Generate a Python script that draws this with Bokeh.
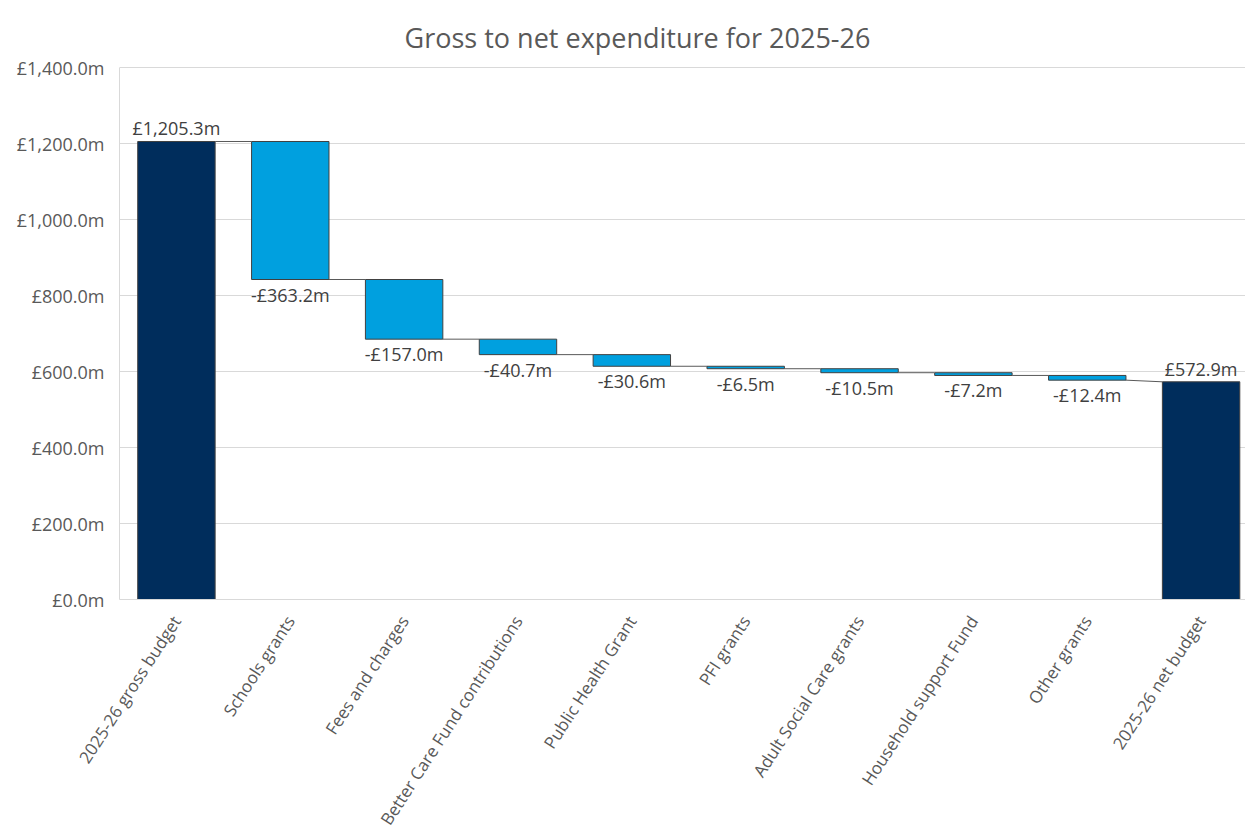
import math
from bokeh.plotting import figure
from bokeh.models import Range1d, FixedTicker, CustomJSTickFormatter, ColumnDataSource, Label
from bokeh.embed import file_html
from bokeh.resources import INLINE

categories = ["2025-26 gross budget", "Schools grants", "Fees and charges",
              "Better Care Fund contributions", "Public Health Grant", "PFI grants",
              "Adult Social Care grants", "Household support Fund", "Other grants",
              "2025-26 net budget"]
values = [1205.3, -363.2, -157.0, -40.7, -30.6, -6.5, -10.5, -7.2, -12.4, 572.9]
is_total = [True, False, False, False, False, False, False, False, False, True]
y_ticks = [0, 200, 400, 600, 800, 1000, 1200, 1400]
y_max = 1400
title_text = "Gross to net expenditure for 2025-26"

FONT = "Open Sans"
TXT = "#595959"
NAVY = "#002D5C"
BLUE = "#00A0DF"

xs, bottoms, tops, colors, labels, label_y, label_base = [], [], [], [], [], [], []
run = 0.0
starts, ends = [], []
for i, (v, tot) in enumerate(zip(values, is_total)):
    if tot:
        b, t = 0.0, v
        start, end = v, v
        run = v
        colors.append(NAVY)
        labels.append("£{:,.1f}m".format(v))
        label_y.append(t)
        label_base.append("bottom")
    else:
        start = run
        run = run + v
        end = run
        b, t = min(start, end), max(start, end)
        colors.append(BLUE)
        labels.append("-£{:,.1f}m".format(abs(v)))
        label_y.append(b)
        label_base.append("top")
    xs.append(i)
    bottoms.append(b)
    tops.append(t)
    starts.append(start)
    ends.append(end)

# layout (pixels): frame from canvas top to y=599, the 1400 line at y=67
FRAME_BOTTOM, GRID_TOP, TITLE_BASE = 599, 67, 37
px_per_unit = (FRAME_BOTTOM - GRID_TOP) / y_max
y_top = FRAME_BOTTOM / px_per_unit

bw = 0.68
x_lo, x_hi = -0.5, len(categories) - 0.61
p = figure(width=1245, height=838, output_backend="svg", toolbar_location=None,
           x_range=Range1d(x_lo, x_hi), y_range=Range1d(0, y_top),
           min_border_left=119, min_border_right=0, min_border_top=0, min_border_bottom=239)
p.outline_line_color = None

# title
title_x = x_lo + (637 - 119) / (1245 - 119) * (x_hi - x_lo)
title_y = (FRAME_BOTTOM - TITLE_BASE) / px_per_unit
p.add_layout(Label(x=title_x, y=title_y, text=title_text, text_align="center",
                   text_baseline="alphabetic", text_font=FONT, text_font_size="27px",
                   text_color=TXT))

src = ColumnDataSource(dict(x=xs, bottom=bottoms, top=tops, color=colors))
p.vbar(x="x", bottom="bottom", top="top", width=bw, fill_color="color",
       line_color="#404040", line_width=1, source=src)

# connectors
cx0 = [xs[i] + bw / 2 for i in range(len(xs) - 1)]
cx1 = [xs[i + 1] - bw / 2 for i in range(len(xs) - 1)]
cy0 = [ends[i] for i in range(len(xs) - 1)]
cy1 = [starts[i + 1] for i in range(len(xs) - 1)]
p.segment(x0=cx0, y0=cy0, x1=cx1, y1=cy1, line_color="#595959", line_width=1)

for i in range(len(xs)):
    p.text(x=[xs[i]], y=[label_y[i]], text=[labels[i]], text_align="center",
           text_baseline=label_base[i], y_offset=-1 if label_base[i] == "bottom" else 3,
           text_font_size="18px", text_color="#404040",
           text_font={"value": FONT})

p.xgrid.grid_line_color = None
p.ygrid.grid_line_color = "#d9d9d9"
p.ygrid.grid_line_width = 1

p.xaxis.ticker = FixedTicker(ticks=xs)
p.xaxis.major_label_overrides = {i: c for i, c in enumerate(categories)}
p.xaxis.major_label_orientation = math.radians(57)
p.xaxis.major_tick_line_color = None
p.xaxis.minor_tick_line_color = None
p.xaxis.axis_line_color = "#d9d9d9"
p.xaxis.major_label_text_font = FONT
p.xaxis.major_label_text_font_size = "17px"
p.xaxis.major_label_text_color = TXT
p.xaxis.major_label_standoff = 12

p.yaxis.ticker = FixedTicker(ticks=y_ticks)
p.yaxis.bounds = (0, y_max)
p.yaxis.formatter = CustomJSTickFormatter(code="""
return '£' + tick.toLocaleString('en-GB', {minimumFractionDigits: 1, maximumFractionDigits: 1}) + 'm';
""")
p.yaxis.major_tick_line_color = None
p.yaxis.minor_tick_line_color = None
p.yaxis.axis_line_color = "#d9d9d9"
p.yaxis.major_label_text_font = FONT
p.yaxis.major_label_text_font_size = "18px"
p.yaxis.major_label_text_color = TXT
p.yaxis.major_label_standoff = 9

open("out.html", "w").write(file_html(p, INLINE))
